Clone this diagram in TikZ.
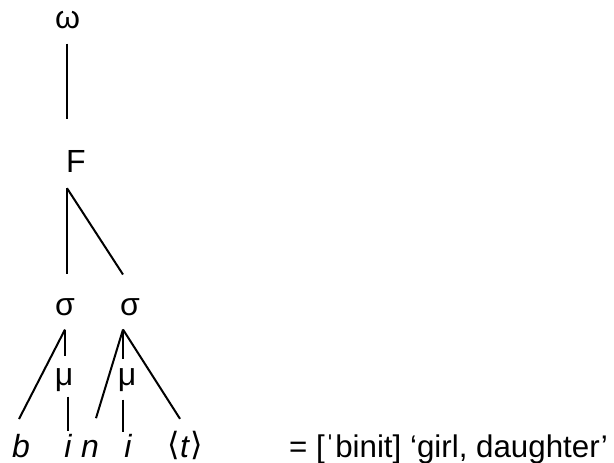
\documentclass[tikz,border=0pt]{standalone}
\usepackage{fontspec}
\setmainfont{Liberation Sans}
\newfontfamily\symfont{DejaVu Sans}
\usetikzlibrary{positioning}

\begin{document}
\begin{tikzpicture}[x=1pt,y=-1pt,
    every node/.style={inner sep=0pt, anchor=base, font=\fontsize{32}{38}\selectfont},
    branch/.style={line width=2pt, line cap=butt}]
    \useasboundingbox (0,0) rectangle (614,463);
    % prosodic levels
    \node (om) at (67.5,28) {ω};
    \node[anchor=base west] (F) at (66,172) {F};
    \node (s1) at (65,315) {σ};  \node (s2) at (130,315) {σ};
    \node (mu1) at (64,385) {μ};  \node (mu2) at (127,385) {μ};
    % segments
    \node (b) at (21,457) {\itshape b};
    \node (i1) at (68,457) {\itshape i};
    \node (n) at (90,457) {\itshape n};
    \node (i2) at (128,457) {\itshape i};
    \node (t) at (185,457) {\raisebox{1.5pt}{\symfont ⟨}\textit{t}\raisebox{1.5pt}{\symfont ⟩}};
    \node[anchor=base west, font=\fontsize{31.3}{38}\selectfont] (gloss) at (289,457) {= [ˈbinit] ‘girl, daughter’};
    % branches
    \draw[branch] ([xshift=1pt,yshift=-15pt]om.south -| F.west) -- ([xshift=1pt,yshift=31pt]F.north west);
    \draw[branch] ([xshift=1pt,yshift=-16pt]F.south west) -- ([xshift=1pt,yshift=23.4pt]s1.north -| F.south west);
    \draw[branch] ([xshift=1pt,yshift=-16pt]F.south west) -- ([xshift=-7pt,yshift=23.4pt]s2.north);
    \draw[branch] ([yshift=-14pt]s1.south) -- ([xshift=-2pt,yshift=14.6pt]b.north);
    \draw[branch] ([yshift=-14pt]s1.south) -- ([yshift=11.4pt]s1.south |- mu1.north);
    \draw[branch] ([yshift=-5.3pt]mu1.south -| i1.north) -- ([yshift=3pt]i1.north);
    \draw[branch] ([xshift=-7pt,yshift=-14pt]s2.south) -- ([xshift=6pt,yshift=21.4pt]n.north);
    \draw[branch] ([xshift=-7pt,yshift=-14pt]s2.south) -- ([xshift=-7pt,yshift=8.4pt]mu2.north -| s2.south);
    \draw[branch] ([xshift=-7pt,yshift=-14pt]s2.south) -- ([xshift=-5pt,yshift=12.2pt]t.north);
    \draw[branch] ([xshift=-7pt,yshift=-8.3pt]mu2.south -| s2.south) -- ([xshift=-7pt,yshift=2pt]i2.north -| s2.south);
\end{tikzpicture}
\end{document}
